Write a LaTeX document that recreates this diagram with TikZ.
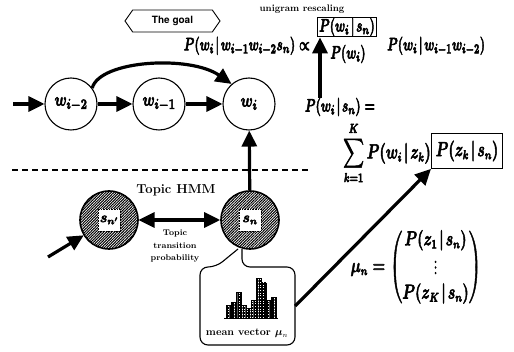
\documentclass[tikz,border=0pt]{standalone}
\usepackage{amsmath}
\usepackage{fontspec}
\newfontfamily\heros{TeX Gyre Heros}
\newcommand{\gv}{\mkern2mu|\mkern2mu}
\newcommand{\heavy}[1]{\special{pdf:literal direct q 2 Tr 0.4 w}#1\special{pdf:literal direct Q}}
\usetikzlibrary{arrows.meta,patterns,patterns.meta,shapes.symbols}
\begin{document}
\begin{tikzpicture}[x=1pt,y=-1pt,
  arr/.style={line width=3.2pt, -{Triangle[length=16pt,width=15pt]}},
  darr/.style={line width=3.2pt, {Triangle[length=16pt,width=15pt]}-{Triangle[length=16pt,width=15pt]}},
  wnode/.style={circle, draw, line width=1.1pt, minimum size=52pt, inner sep=0},
  wlab/.style={inner sep=0, font=\fontsize{15}{18}\selectfont\boldmath, yscale=1.3, transform shape},
  snode/.style={circle, draw, line width=1.6pt, minimum size=58pt, inner sep=0, pattern={Lines[angle=45,distance=1.9pt,line width=1pt]}},
  slab/.style={fill=white, draw, densely dotted, line width=0.6pt, minimum size=22pt, inner sep=0, font=\fontsize{14}{17}\selectfont\boldmath},
  eq/.style={inner sep=0, font=\fontsize{12.8}{15}\selectfont\boldmath, yscale=1.5, transform shape},
  boxed/.style={draw, line width=1pt},
  lab/.style={inner sep=0, font=\fontsize{13}{15}\selectfont\bfseries},
  smalllab/.style={inner sep=0, align=center, font=\fontsize{8.3}{12.5}\selectfont\bfseries},
  histbar/.style={draw, line width=0.6pt, pattern={Hatch[distance=1.6pt, line width=0.6pt]}}
]
\useasboundingbox (0,0) rectangle (514,352);

% top label
\node[draw, line width=0.9pt, shape=signal, signal to=west and east, signal pointer angle=110,
      minimum width=95pt, minimum height=22pt, inner sep=0, font=\heros\bfseries\fontsize{10}{12}\selectfont] (goal) at (172.5,21) {The goal};
\node[inner sep=0, font=\fontsize{9.5}{11}\selectfont\bfseries] (uni) at (302,9) {unigram rescaling};

% word chain
\node[wnode] (wm2) at (71,104) {};
\node[wlab] (wm2l) at (wm2) {\heavy{$w_{i-2}$}};
\node[wnode] (wm1) at (159,104) {};
\node[wlab] (wm1l) at (wm1) {\heavy{$w_{i-1}$}};
\node[wnode] (wi) at (249,104) {};
\node[wlab] (wil) at (wi) {\heavy{$w_i$}};
\coordinate (in1) at (13,104);
\draw[arr] (in1) -- (wm2);
\draw[arr] (wm2) -- (wm1);
\draw[arr] (wm1) -- (wi);
\draw[arr] (wm2.37) .. controls (100,60) and (190,55) .. (wi.131);

% divider
\draw[line width=1.3pt, dash pattern=on 6pt off 4pt] (12,170) -- (310,170);

% formulas
\node[eq, anchor=east] (lhs) at (310,46) {\heavy{$P(w_i\gv w_{i-1}w_{i-2}s_n)\propto$}};
\node[eq, boxed, inner xsep=1.5pt, inner ysep=0.4pt] (num) at (347,27) {\heavy{$P(w_i\gv s_n)$}};
\node[eq] (den) at (348,54) {\heavy{$P(w_i)$}};
\node[eq, anchor=west] (rhs) at (387,46) {\heavy{$P(w_i\gv w_{i-1}w_{i-2})$}};
\node[eq] (pws) at (340,107) {\heavy{$P(w_i\gv s_n) =$}};
\node[eq, anchor=east, font=\fontsize{13.5}{16}\selectfont\boldmath, yscale=0.95] (sum) at (431,153) {\heavy{$\displaystyle\sum_{k=1}^{K}P(w_i\gv z_k)$}};
\node[eq, boxed, minimum width=71pt, minimum height=24pt, font=\fontsize{13.5}{16}\selectfont\boldmath, yscale=0.95] (zbox) at (467,151) {\heavy{$P(z_k\gv s_n)$}};
\node[eq, yscale=0.93, font=\fontsize{13.5}{16}\selectfont\boldmath] (mu) at (416,267) {\heavy{$\renewcommand{\arraystretch}{1.1}\mu_n = \begin{pmatrix} P(z_1\gv s_n)\\ \vdots \\ P(z_K\gv s_n)\end{pmatrix}$}};
\coordinate (ax) at (320,0);
\draw[arr] (pws.north -| ax) -- (num.south -| ax);

% topic HMM
\node[lab] (hmm) at (176,190) {Topic HMM};
\node[snode] (snp) at (109,220) {};
\node[slab] (snpl) at (snp) {\heavy{$s_{n'}$}};
\node[snode] (sn) at (250,220) {};
\node[slab] (snl) at (sn) {\heavy{$s_n$}};
\draw[darr] (snp) -- (sn);
\coordinate (in2) at (48,257);
\draw[arr] (in2) -- (snp);
\draw[arr] (sn) -- (wi);
\node[smalllab] (ttp) at (175,246) {Topic\\transition\\probability};

% bubble
\node[minimum width=95pt, minimum height=78pt, inner sep=0] (bubble) at (247.5,306) {};
\draw[line width=1.1pt, fill=white, rounded corners=8pt] (238,249) -- (216,267) -- (200,267) -- (200,345) -- (295,345) -- (295,267) -- (242,267) [sharp corners] -- (242,249);
\foreach \x/\t in {226/305,231/302,236/292,241/305,246/308,251/300,256/278,261/283,266/300,271/297}
  \draw[histbar] (\x,318) rectangle ++(5,\t-318);
\draw[line width=0.8pt] (224,318) -- (278,318);
\node[inner sep=0, font=\fontsize{10.5}{12}\selectfont\bfseries] (mv) at (247,333) {mean vector $\boldsymbol{\mu}_n$};
\draw[arr] (bubble.east) -- (zbox.south west);
\end{tikzpicture}
\end{document}
